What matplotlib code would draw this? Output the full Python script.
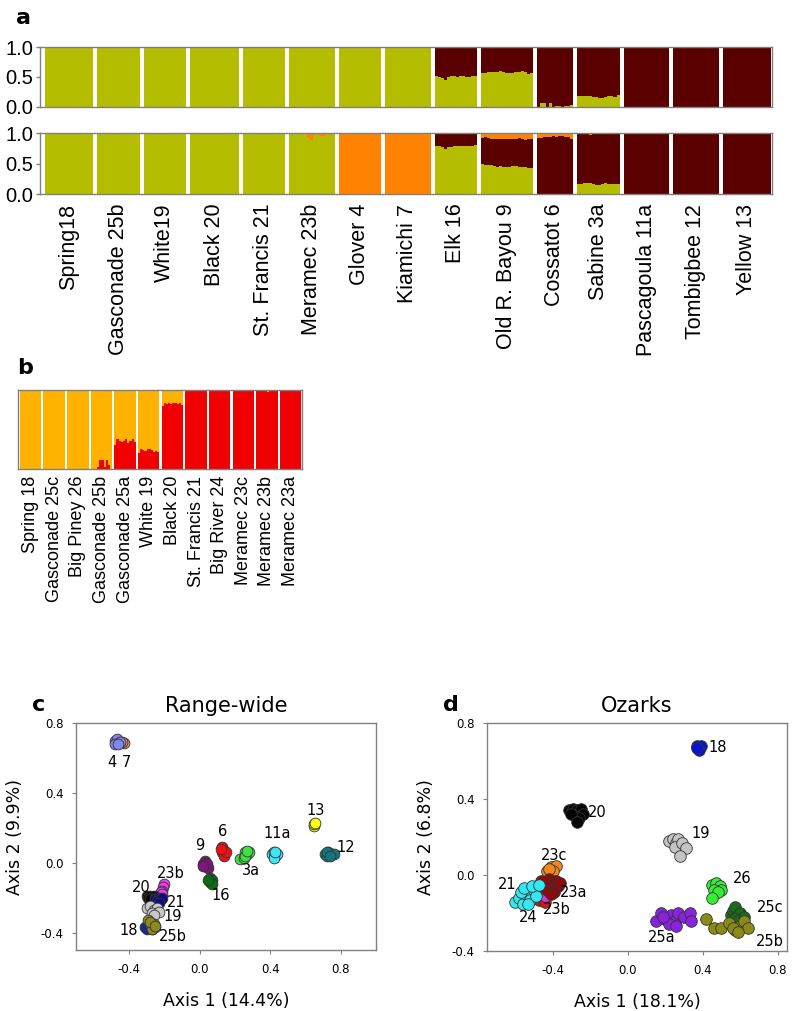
import matplotlib
matplotlib.use("Agg")
import matplotlib.pyplot as plt
import numpy as np

# ---------------- panel a : STRUCTURE range-wide (K=2 top, K=3 bottom) ----------------
pops_a = ["Spring18", "Gasconade 25b", "White19", "Black 20", "St. Francis 21",
          "Meramec 23b", "Glover 4", "Kiamichi 7", "Elk 16", "Old R. Bayou 9",
          "Cossatot 6", "Sabine 3a", "Pascagoula 11a", "Tombigbee 12", "Yellow 13"]
n_a = [16, 14, 14, 16, 14, 15, 14, 15, 14, 17, 12, 14, 15, 15, 16]

# K=2: green share per individual (rest is dark red)
green_k2 = [
    [1] * 16, [1] * 14, [1] * 14, [1] * 16, [1] * 14, [1] * 15, [1] * 14, [1] * 15,
    [0.51, 0.50, 0.49, 0.45, 0.50, 0.52, 0.51, 0.50, 0.52, 0.51, 0.50, 0.50, 0.51, 0.51],
    [0.57, 0.57, 0.58, 0.59, 0.59, 0.58, 0.60, 0.59, 0.57, 0.57, 0.56, 0.58, 0.58, 0.60, 0.58, 0.55, 0.57],
    [0.0, 0.06, 0.06, 0.0, 0.06, 0.0, 0.02, 0.02, 0.0, 0.01, 0.02, 0.03],
    [0.18, 0.18, 0.19, 0.18, 0.18, 0.17, 0.17, 0.15, 0.15, 0.17, 0.18, 0.18, 0.17, 0.20],
    [0] * 15, [0] * 15, [0] * 16]

# K=3: green and orange shares (rest is dark red)
green_k3 = [
    [1] * 16, [1] * 14, [1] * 14, [1] * 16, [1] * 14,
    [1, 1, 1, 1, 1, 1, 0.92, 0.88, 0.97, 1, 0.95, 0.95, 0.98, 0.97, 1],
    [0] * 14, [0] * 15,
    [0.78, 0.78, 0.77, 0.74, 0.77, 0.77, 0.78, 0.78, 0.78, 0.78, 0.79, 0.79, 0.79, 0.80],
    [0.49, 0.48, 0.47, 0.47, 0.46, 0.45, 0.46, 0.45, 0.44, 0.45, 0.46, 0.46, 0.44, 0.45, 0.44, 0.42, 0.42],
    [0] * 12,
    [0.17, 0.17, 0.18, 0.18, 0.18, 0.16, 0.14, 0.14, 0.17, 0.18, 0.16, 0.16, 0.17, 0.17],
    [0] * 15, [0] * 15, [0] * 16]
orange_k3 = [
    [0] * 16, [0] * 14, [0] * 14, [0] * 16, [0] * 14,
    [0, 0, 0, 0, 0, 0, 0.08, 0.12, 0.03, 0, 0.05, 0.05, 0.02, 0.03, 0],
    [1] * 14, [1] * 15,
    [0] * 14,
    [0.08, 0.07, 0.08, 0.09, 0.10, 0.09, 0.10, 0.09, 0.10, 0.10, 0.09, 0.10, 0.08, 0.10, 0.11, 0.09, 0.10],
    [0.08, 0.08, 0.07, 0.06, 0.06, 0.05, 0.07, 0.05, 0.05, 0.06, 0.07, 0.09],
    [0, 0, 0, 0, 0.03, 0, 0, 0.02, 0, 0, 0.02, 0, 0, 0],
    [0] * 15, [0] * 15, [0] * 16]

# ---------------- panel b : STRUCTURE Ozarks ----------------
pops_b = ["Spring 18", "Gasconade 25c", "Big Piney 26", "Gasconade 25b", "Gasconade 25a",
          "White 19", "Black 20", "St. Francis 21", "Big River 24", "Meramec 23c",
          "Meramec 23b", "Meramec 23a"]
n_b = [10] * 12
red_b = [
    [0] * 10, [0] * 10, [0] * 10,
    [0, 0, 0, 0.02, 0.12, 0.12, 0.03, 0.12, 0.05, 0.0],
    [0.30, 0.38, 0.36, 0.34, 0.36, 0.38, 0.33, 0.35, 0.38, 0.34],
    [0.20, 0.25, 0.24, 0.23, 0.25, 0.25, 0.24, 0.22, 0.23, 0.22],
    [0.80, 0.83, 0.82, 0.84, 0.82, 0.83, 0.84, 0.82, 0.83, 0.81],
    [1] * 10, [1] * 10,
    [1, 1, 1, 0.99, 1, 1, 1, 1, 1, 1],
    [1, 1, 0.99, 1, 1, 0.98, 1, 0.99, 1, 1],
    [1] * 10]

# ---------------- panel c : PCoA range-wide ----------------
c_names = ["7", "4", "13", "12", "11a", "3a", "6", "9", "16", "23b", "20", "21", "19", "18", "25b"]
c_x = [
    [-0.43, -0.44],
    [-0.48, -0.47, -0.46, -0.47, -0.45, -0.48, -0.46],
    [0.65, 0.65, 0.655],
    [0.71, 0.72, 0.74, 0.73, 0.75, 0.76, 0.72, 0.74],
    [0.41, 0.42, 0.43, 0.44, 0.42, 0.43],
    [0.23, 0.25, 0.26, 0.27, 0.28, 0.26, 0.27],
    [0.13, 0.13, 0.14, 0.14, 0.15, 0.12],
    [0.02, 0.03, 0.04, 0.03, 0.05, 0.04, 0.02],
    [0.06, 0.07, 0.06, 0.07, 0.05],
    [-0.20, -0.205, -0.21, -0.22, -0.21],
    [-0.30, -0.29, -0.28, -0.27, -0.26, -0.28, -0.25],
    [-0.25, -0.23, -0.22, -0.24, -0.21, -0.23],
    [-0.30, -0.28, -0.26, -0.24, -0.27, -0.23, -0.26],
    [-0.31, -0.30, -0.28, -0.29, -0.27],
    [-0.29, -0.28, -0.27, -0.26, -0.25, -0.27, -0.28, -0.25]]
c_y = [
    [0.685, 0.69],
    [0.70, 0.69, 0.70, 0.71, 0.69, 0.68, 0.68],
    [0.21, 0.22, 0.225],
    [0.05, 0.04, 0.05, 0.06, 0.05, 0.05, 0.06, 0.04],
    [0.05, 0.06, 0.04, 0.05, 0.03, 0.06],
    [0.02, 0.03, 0.06, 0.05, 0.06, 0.04, 0.07],
    [0.09, 0.06, 0.07, 0.04, 0.06, 0.08],
    [-0.01, 0.01, -0.02, 0.0, -0.03, -0.01, -0.02],
    [-0.09, -0.10, -0.11, -0.12, -0.10],
    [-0.12, -0.14, -0.16, -0.17, -0.18],
    [-0.19, -0.20, -0.19, -0.20, -0.19, -0.21, -0.20],
    [-0.21, -0.20, -0.21, -0.22, -0.20, -0.23],
    [-0.26, -0.25, -0.27, -0.26, -0.29, -0.28, -0.30],
    [-0.37, -0.38, -0.37, -0.36, -0.38],
    [-0.33, -0.35, -0.36, -0.35, -0.37, -0.38, -0.34, -0.36]]
c_cols = ["#e8905a", "#7f86ee", "#ffff10", "#13777c", "#3ee6f4", "#3fe044", "#ee1111",
          "#7d157d", "#0b6b12", "#ee3cee", "#050505", "#0e0e78", "#c8c8c8", "#1020c0", "#8a8a22"]
c_lab = ["4 7", "13", "12", "11a", "6", "9", "3a", "16", "23b", "20", "21", "19", "18", "25b"]
c_lab_pos = [(-0.455, 0.575), (0.655, 0.30), (0.83, 0.09), (0.44, 0.165), (0.13, 0.18),
             (0.0, 0.10), (0.29, -0.045), (0.12, -0.19), (-0.165, -0.06), (-0.33, -0.14),
             (-0.13, -0.23), (-0.15, -0.31), (-0.40, -0.39), (-0.15, -0.42)]

# ---------------- panel d : PCoA Ozarks ----------------
d_names = ["21", "23b", "23c", "23a", "24", "20", "18", "19", "26", "25a", "25c", "25b"]
d_x = [
    [-0.47, -0.45, -0.44],
    [-0.45, -0.43, -0.44],
    [-0.43, -0.41, -0.38, -0.40, -0.42],
    [-0.46, -0.44, -0.42, -0.40, -0.38, -0.37, -0.43, -0.39, -0.41, -0.36],
    [-0.60, -0.58, -0.56, -0.54, -0.52, -0.50, -0.57, -0.53, -0.49, -0.55, -0.51, -0.47],
    [-0.31, -0.29, -0.27, -0.25, -0.24, -0.28, -0.26, -0.30, -0.27],
    [0.37, 0.38, 0.39, 0.38, 0.37],
    [0.22, 0.24, 0.26, 0.27, 0.25, 0.29, 0.31, 0.28],
    [0.45, 0.47, 0.49, 0.50, 0.46, 0.48, 0.45],
    [0.15, 0.18, 0.20, 0.23, 0.25, 0.27, 0.30, 0.33, 0.22, 0.26, 0.34, 0.19],
    [0.55, 0.56, 0.57, 0.58, 0.60, 0.62, 0.57, 0.59],
    [0.42, 0.46, 0.50, 0.54, 0.57, 0.60, 0.62, 0.64, 0.56, 0.59]]
d_y = [
    [-0.13, -0.12, -0.14],
    [-0.09, -0.10, -0.11],
    [0.02, 0.04, 0.05, 0.02, 0.03],
    [-0.03, -0.05, -0.02, -0.04, -0.03, -0.06, -0.08, -0.09, -0.10, -0.04],
    [-0.14, -0.12, -0.15, -0.10, -0.13, -0.08, -0.09, -0.15, -0.11, -0.07, -0.06, -0.05],
    [0.34, 0.35, 0.34, 0.35, 0.32, 0.31, 0.30, 0.32, 0.28],
    [0.68, 0.67, 0.68, 0.66, 0.67],
    [0.18, 0.19, 0.17, 0.19, 0.15, 0.17, 0.14, 0.10],
    [-0.05, -0.04, -0.06, -0.08, -0.08, -0.09, -0.12],
    [-0.24, -0.20, -0.23, -0.21, -0.24, -0.20, -0.22, -0.20, -0.26, -0.27, -0.24, -0.22],
    [-0.21, -0.19, -0.17, -0.22, -0.20, -0.22, -0.23, -0.24],
    [-0.23, -0.28, -0.28, -0.25, -0.29, -0.27, -0.24, -0.28, -0.28, -0.30]]
d_cols = ["#cc1a1a", "#dd33dd", "#f08a1e", "#8b0a0a", "#33e8f0", "#050505", "#0a14cc",
          "#c4c4c4", "#33ee33", "#8822dd", "#1a6b1a", "#8a8a14"]
d_lab = ["18", "20", "19", "23c", "23a", "23b", "21", "24", "26", "25c", "25b", "25a"]
d_lab_pos = [(0.48, 0.67), (-0.16, 0.33), (0.39, 0.22), (-0.39, 0.105), (-0.29, -0.09),
             (-0.38, -0.18), (-0.64, -0.05), (-0.53, -0.225), (0.61, -0.02), (0.76, -0.17),
             (0.76, -0.35), (0.18, -0.33)]

GREEN = "#b4bd00"
DRED = "#5a0000"
ORANGE = "#ff8300"
B_ORANGE = "#ffb300"
B_RED = "#f00000"
FRAME = "#808080"
ARIAL = "Liberation Sans"


def draw_structure(ax, counts, layers, colors, gap):
    # stacked bars, one bar per individual, white gap between populations
    x0 = 0.0
    centers = []
    for i, n in enumerate(counts):
        xs = x0 + np.arange(n)
        bottom = np.zeros(n)
        for layer, col in zip(layers, colors):
            h = np.array(layer[i], dtype=float)
            ax.bar(xs, h, width=1.0, bottom=bottom, color=col, align="edge",
                   linewidth=0, antialiased=False)
            bottom = bottom + h
        centers.append(x0 + n / 2.0)
        x0 += n + gap
    return centers, x0 - gap


def frame(ax):
    for s in ax.spines.values():
        s.set_color(FRAME)
        s.set_linewidth(1.0)


fig = plt.figure(figsize=(7.96, 10.11), dpi=100)

# panel a
red_k2 = [list(1 - np.array(g, dtype=float)) for g in green_k2]
red_k3 = [list(1 - np.array(g, dtype=float) - np.array(o, dtype=float))
          for g, o in zip(green_k3, orange_k3)]

ax_a1 = fig.add_axes([0.0503, 0.8942, 0.9196, 0.0593])
ax_a2 = fig.add_axes([0.0503, 0.8081, 0.9196, 0.0603])
cen_a, tot_a = draw_structure(ax_a1, n_a, [green_k2, red_k2], [GREEN, DRED], 1.3)
draw_structure(ax_a2, n_a, [green_k3, red_k3, orange_k3], [GREEN, DRED, ORANGE], 1.3)
for ax in (ax_a1, ax_a2):
    ax.set_xlim(-1.5, tot_a + 0.3)
    ax.set_ylim(0, 1)
    ax.set_yticks([0.0, 0.5, 1.0])
    ax.set_yticklabels(["0.0", "0.5", "1.0"], fontsize=14.5, family=ARIAL)
    ax.tick_params(axis="y", length=3, width=1, color=FRAME, pad=2)
    frame(ax)
ax_a1.set_xticks([])
ax_a2.set_xticks(cen_a)
ax_a2.set_xticklabels(pops_a, rotation=90, fontsize=15.5, family=ARIAL)
ax_a2.tick_params(axis="x", length=0, pad=7)
fig.text(0.02, 0.982, "a", fontsize=16, fontweight="bold", family="DejaVu Sans", va="center")

# panel b
orange_b = [list(1 - np.array(r, dtype=float)) for r in red_b]
ax_b = fig.add_axes([0.0226, 0.5361, 0.3568, 0.0781])
cen_b, tot_b = draw_structure(ax_b, n_b, [red_b, orange_b], [B_RED, B_ORANGE], 1.0)
ax_b.set_xlim(-0.8, tot_b + 0.3)
ax_b.set_ylim(0, 1)
ax_b.set_yticks([])
ax_b.set_xticks(cen_b)
ax_b.set_xticklabels(pops_b, rotation=90, fontsize=13, family=ARIAL)
ax_b.tick_params(axis="x", length=0, pad=5)
frame(ax_b)
fig.text(0.022, 0.636, "b", fontsize=16, fontweight="bold", family="DejaVu Sans", va="center")

# panel c
ax_c = fig.add_axes([0.0955, 0.0603, 0.3769, 0.2245])
for xs, ys, col in zip(c_x, c_y, c_cols):
    ax_c.scatter(xs, ys, s=60, c=col, edgecolors="#333333", linewidths=0.6, zorder=3)
for t, (lx, ly) in zip(c_lab, c_lab_pos):
    ax_c.text(lx, ly, t, fontsize=10.5, ha="center", va="center")
ax_c.set_xlim(-0.7, 1.0)
ax_c.set_ylim(-0.5, 0.8)
ax_c.set_xticks([-0.4, 0.0, 0.4, 0.8])
ax_c.set_yticks([-0.4, 0.0, 0.4, 0.8])
ax_c.set_title("Range-wide", fontsize=15, pad=8)
ax_c.set_xlabel("Axis 1 (14.4%)", fontsize=12.5, labelpad=12)
ax_c.set_ylabel("Axis 2 (9.9%)", fontsize=12.5, labelpad=12)
fig.text(0.04, 0.303, "c", fontsize=16, fontweight="bold", va="center")

# panel d
ax_d = fig.add_axes([0.6118, 0.0593, 0.3769, 0.2255])
for xs, ys, col in zip(d_x, d_y, d_cols):
    ax_d.scatter(xs, ys, s=70, c=col, edgecolors="#333333", linewidths=0.6, zorder=3)
for t, (lx, ly) in zip(d_lab, d_lab_pos):
    ax_d.text(lx, ly, t, fontsize=10.5, ha="center", va="center")
ax_d.set_xlim(-0.75, 0.85)
ax_d.set_ylim(-0.4, 0.8)
ax_d.set_xticks([-0.4, 0.0, 0.4, 0.8])
ax_d.set_yticks([-0.4, 0.0, 0.4, 0.8])
ax_d.set_title("Ozarks", fontsize=15, pad=8)
ax_d.set_xlabel("Axis 1 (18.1%)", fontsize=12.5, labelpad=12)
ax_d.set_ylabel("Axis 2 (6.8%)", fontsize=12.5, labelpad=12)
fig.text(0.557, 0.303, "d", fontsize=16, fontweight="bold", va="center")

for ax in (ax_c, ax_d):
    frame(ax)
    ax.tick_params(length=3, width=0.8, color=FRAME, labelsize=8.5, pad=6)
    ax.set_xticklabels(["-0.4", "0.0", "0.4", "0.8"])
    ax.set_yticklabels(["-0.4", "0.0", "0.4", "0.8"])

fig.savefig("out.png", dpi=100)
